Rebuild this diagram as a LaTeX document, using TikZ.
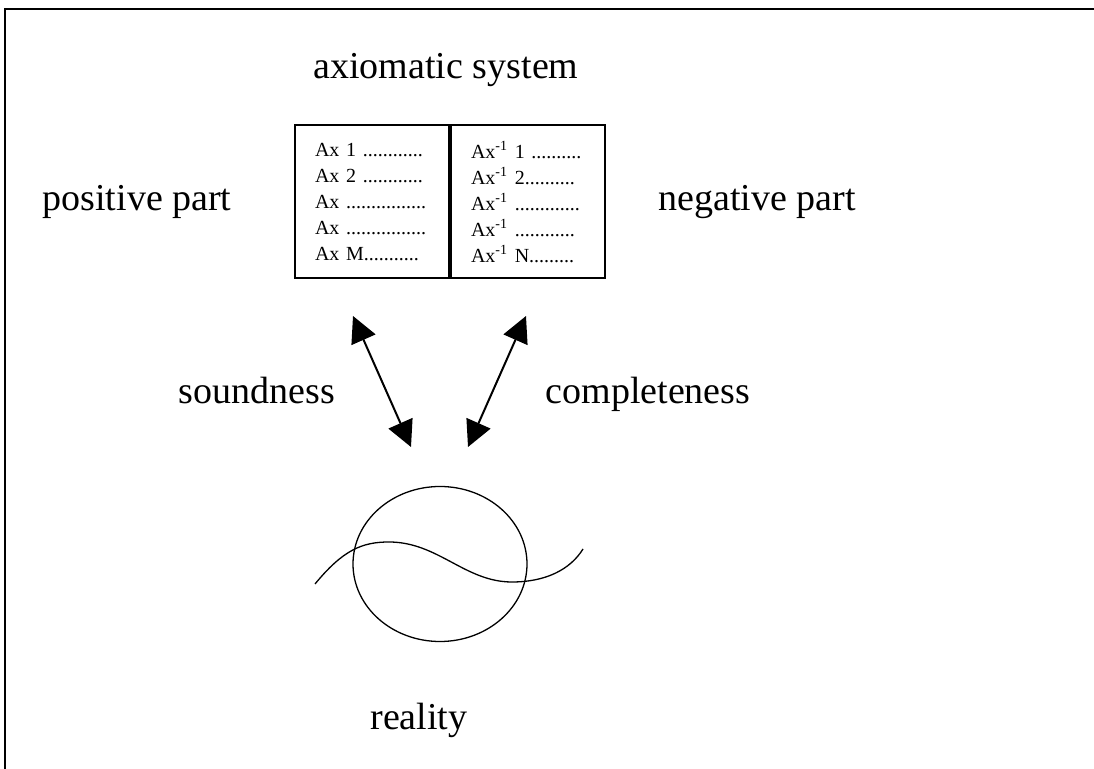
\documentclass[tikz,border=0pt]{standalone}
\usepackage{fontspec}
\setmainfont{Liberation Serif}
\usetikzlibrary{positioning}
\usetikzlibrary{arrows.meta}

\begin{document}
\begin{tikzpicture}[x=0.5pt,y=-0.5pt,
    font=\fontsize{19}{23}\selectfont,
    labeln/.style={draw=none,anchor=base,inner sep=0pt},
    celln/.style={draw=black,line width=1pt,minimum width=77pt,minimum height=76.5pt,
      text width=57pt,inner xsep=10pt,inner ysep=0pt,align=left,
      font=\fontsize{10}{13}\selectfont},
    linkn/.style={line width=1pt,
      {Triangle[length=13pt,width=13pt]}-{Triangle[length=13pt,width=13pt]}},
    curven/.style={line width=0.65pt}]
  \useasboundingbox (0,0) rectangle (1094,769);
  \draw[line width=1pt] (1094,9) -- (5,9) -- (5,769);
  % the two halves of the system
  \node[celln] (axpos) at (372,202) {Ax 1 ............\\ Ax 2 ............\\
    Ax ................\\ Ax ................\\ Ax M...........};
  \node[celln,right=0pt of axpos] (axneg) {Ax\textsuperscript{-1} 1 ..........\\
    Ax\textsuperscript{-1} 2..........\\ Ax\textsuperscript{-1} .............\\
    Ax\textsuperscript{-1} ............\\ Ax\textsuperscript{-1} N.........};
  \node[labeln] (title) at (446,79) {axiomatic system};
  \node[labeln] (pospart) at (137,211) {positive part};
  \node[labeln] (negpart) at (757,211) {negative part};
  \node[labeln] (sound) at (257,404) {soundness};
  \node[labeln] (complete) at (648,404) {completeness};
  \node[labeln] (reality) at (419,730) {reality};
  % arrows between system and reality
  \coordinate (sndtop) at (353,316);
  \coordinate (sndbot) at (411,447);
  \coordinate (cmptop) at (526,316);
  \coordinate (cmpbot) at (468,447);
  \draw[linkn] (sndtop) -- (sndbot);
  \draw[linkn] (cmptop) -- (cmpbot);
  % reality
  \draw[curven] (440,564) ellipse [x radius=43.5pt,y radius=38.75pt];
  \draw[curven] (315,584) .. controls (343,550) and (362,542) .. (389,542)
    .. controls (438,542) and (465,582) .. (512,582)
    .. controls (545,582) and (570,570) .. (583,549);
\end{tikzpicture}
\end{document}
